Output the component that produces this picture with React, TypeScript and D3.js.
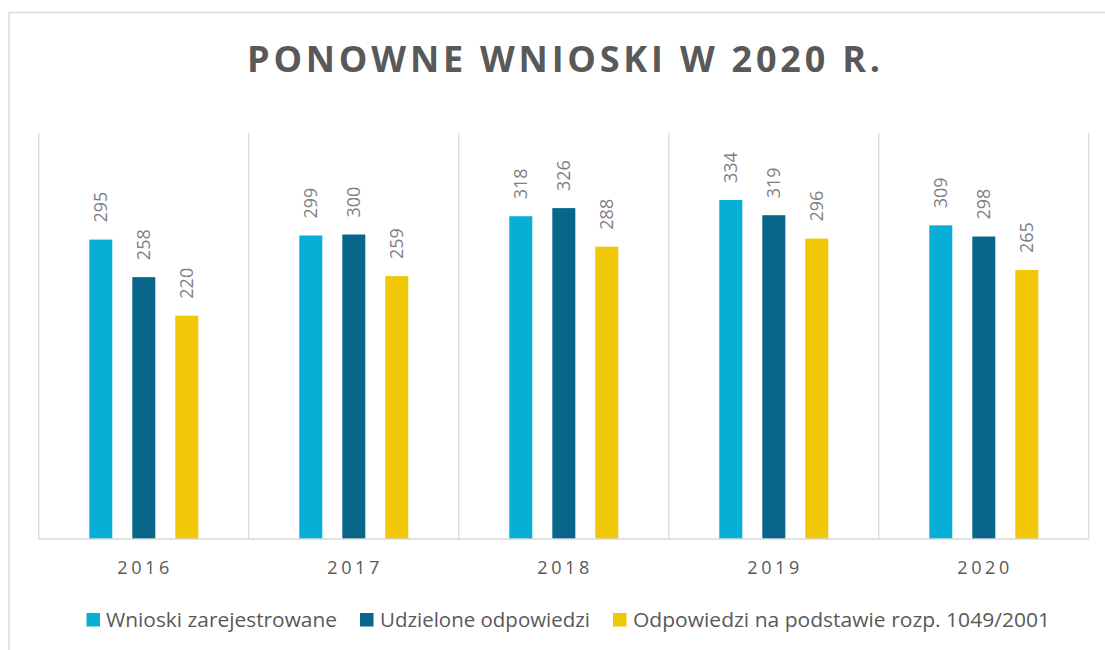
import React from "react";
import * as d3 from "d3";

const years = ["2016", "2017", "2018", "2019", "2020"];
const seriesNames = [
  "Wnioski zarejestrowane",
  "Udzielone odpowiedzi",
  "Odpowiedzi na podstawie rozp. 1049/2001",
];
const registered = [295, 299, 318, 334, 309];
const answered = [258, 300, 326, 319, 298];
const byRegulation = [220, 259, 288, 296, 265];
const seriesColors = ["#07aed6", "#08668a", "#f0c808"];
const title = "PONOWNE WNIOSKI W 2020 R.";

const W = 1105;
const H = 650;
const plot = { left: 38.8, right: 1088.8, top: 133, bottom: 539 };
const FONT = "'Open Sans', 'DejaVu Sans', sans-serif";

export default function App() {
  const seriesValues = [registered, answered, byRegulation];
  const x = d3.scaleBand<string>().domain(years).range([plot.left, plot.right]).padding(0);
  const groupW = 129;
  const inner = d3
    .scaleBand<number>()
    .domain(d3.range(seriesNames.length))
    .range([0, groupW])
    .paddingInner(20 / 43)
    .paddingOuter(10 / 43);
  const y = d3.scaleLinear().domain([0, 400]).range([plot.bottom, plot.top]);
  const bw = inner.bandwidth();

  const gridXs = [...years.map((yy) => x(yy)!), plot.right];
  const legendItems = [
    { sq: 86.5, tx: 106, len: 231 },
    { sq: 360, tx: 380, len: 210 },
    { sq: 613, tx: 633, len: 417 },
  ];

  return (
    <svg
      width={W}
      height={H}
      style={{ position: "absolute", left: 0, top: 0, background: "#fff" }}
    >
      <rect x={0} y={0} width={W} height={H} fill="#fff" />
      <line x1={9} x2={W} y1={12.5} y2={12.5} stroke="#d9d9d9" strokeWidth={1.5} />
      <line x1={9} x2={9} y1={12.5} y2={H} stroke="#d9d9d9" strokeWidth={1.5} />

      <text
        x={563.5}
        y={72}
        textAnchor="middle"
        fontFamily={FONT}
        fontWeight={700}
        fontSize={36}
        fill="#595959"
        textLength={633}
        lengthAdjust="spacing"
      >
        {title}
      </text>

      {gridXs.map((gx, i) => (
        <line
          key={i}
          x1={gx}
          x2={gx}
          y1={plot.top}
          y2={plot.bottom}
          stroke="#d9d9d9"
          strokeWidth={1.3}
        />
      ))}

      {years.map((yr, ci) => {
        const gx0 = x(yr)! + x.bandwidth() / 2 - groupW / 2;
        return (
          <g key={yr}>
            {seriesValues.map((vals, si) => {
              const bx = gx0 + inner(si)!;
              const by = y(vals[ci]);
              const cx = bx + bw / 2;
              const ly = by - 17;
              return (
                <g key={si}>
                  <rect
                    x={bx}
                    y={by}
                    width={bw}
                    height={plot.bottom - by}
                    fill={seriesColors[si]}
                  />
                  <text
                    transform={`translate(${cx + 6.5},${ly}) rotate(-90)`}
                    textAnchor="start"
                    fontFamily={FONT}
                    fontSize={18}
                    fill="#7f7f7f"
                  >
                    {vals[ci]}
                  </text>
                </g>
              );
            })}
            <text
              x={x(yr)! + x.bandwidth() / 2 - 0.5}
              y={573.5}
              textAnchor="middle"
              fontFamily={FONT}
              fontSize={18}
              fill="#595959"
              textLength={52}
              lengthAdjust="spacing"
            >
              {yr}
            </text>
          </g>
        );
      })}

      <line
        x1={plot.left}
        x2={plot.right}
        y1={plot.bottom}
        y2={plot.bottom}
        stroke="#d9d9d9"
        strokeWidth={1.5}
      />

      {seriesNames.map((name, i) => (
        <g key={name}>
          <rect
            x={legendItems[i].sq}
            y={613}
            width={13.5}
            height={13.5}
            fill={seriesColors[i]}
          />
          <text
            x={legendItems[i].tx}
            y={627}
            fontFamily={FONT}
            fontSize={20.5}
            fill="#595959"
            textLength={legendItems[i].len}
            lengthAdjust="spacingAndGlyphs"
          >
            {name}
          </text>
        </g>
      ))}
    </svg>
  );
}
